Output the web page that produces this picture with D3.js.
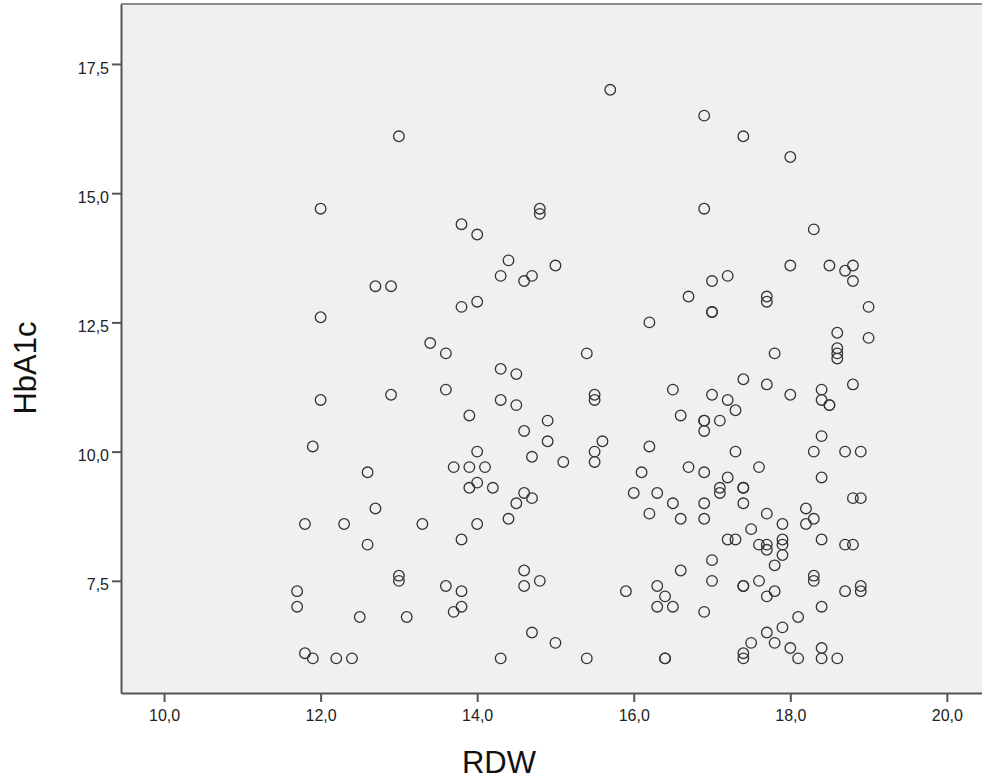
<!DOCTYPE html>
<html>
<head>
<meta charset="utf-8">
<script src="https://cdn.jsdelivr.net/npm/d3@7"></script>
<style>
  body { margin: 0; background: #fff; }
  svg { display: block; }
  text { font-family: "Liberation Sans", Arial, sans-serif; }
</style>
</head>
<body>
<script>
// RDW (x) and HbA1c (y), same order in both lists
var rdw = [
  13.0,12.0,14.8,14.8,13.8,14.0,14.4,14.3,14.7,14.6,
  15.0,12.7,12.9,13.8,14.0,12.0,13.4,13.6,14.3,14.5,
  12.0,12.9,13.6,14.3,14.5,13.9,14.9,14.6,14.9,11.9,
  14.0,14.7,15.1,12.6,13.7,13.9,14.1,14.0,13.9,14.2,
  14.6,14.7,14.5,12.7,11.8,12.3,13.3,14.0,14.4,13.8,
  12.6,13.0,13.0,14.6,14.8,14.6,13.6,13.8,11.7,11.7,
  13.8,13.7,12.5,13.1,14.7,15.0,11.8,11.9,12.2,12.4,
  14.3,
  15.7,16.9,17.4,18.0,16.9,18.0,17.0,17.2,16.7,17.7,
  17.7,17.0,17.0,16.2,15.4,17.8,17.4,17.7,16.5,15.5,
  15.5,17.0,17.2,18.0,17.3,16.6,16.9,16.9,17.1,16.9,
  15.6,15.5,15.5,16.2,17.3,17.6,16.7,16.9,16.1,17.2,
  17.1,17.1,17.4,17.4,16.0,16.3,16.5,16.9,17.4,16.2,
  16.6,16.9,17.7,17.9,17.5,17.2,17.3,17.6,17.7,17.7,
  17.9,17.9,17.9,17.8,17.0,16.6,17.0,17.4,17.4,17.6,
  17.8,17.7,15.9,16.3,16.4,16.3,16.5,16.9,18.1,17.9,
  17.7,17.8,17.5,18.0,18.1,17.4,17.4,16.4,16.4,15.4,
  18.3,18.5,18.8,18.7,18.8,19.0,18.6,18.6,18.6,18.6,
  19.0,18.8,18.4,18.4,18.5,18.5,18.4,18.3,18.7,18.9,
  18.4,18.8,18.9,18.2,18.3,18.2,18.4,18.7,18.8,18.3,
  18.3,18.7,18.9,18.9,18.4,18.4,18.4,18.6
];
var hba1c = [
  16.1,14.7,14.7,14.6,14.4,14.2,13.7,13.4,13.4,13.3,
  13.6,13.2,13.2,12.8,12.9,12.6,12.1,11.9,11.6,11.5,
  11.0,11.1,11.2,11.0,10.9,10.7,10.6,10.4,10.2,10.1,
  10.0,9.9,9.8,9.6,9.7,9.7,9.7,9.4,9.3,9.3,
  9.2,9.1,9.0,8.9,8.6,8.6,8.6,8.6,8.7,8.3,
  8.2,7.6,7.5,7.7,7.5,7.4,7.4,7.3,7.3,7.0,
  7.0,6.9,6.8,6.8,6.5,6.3,6.1,6.0,6.0,6.0,
  6.0,
  17.0,16.5,16.1,15.7,14.7,13.6,13.3,13.4,13.0,13.0,
  12.9,12.7,12.7,12.5,11.9,11.9,11.4,11.3,11.2,11.1,
  11.0,11.1,11.0,11.1,10.8,10.7,10.6,10.6,10.6,10.4,
  10.2,10.0,9.8,10.1,10.0,9.7,9.7,9.6,9.6,9.5,
  9.3,9.2,9.3,9.3,9.2,9.2,9.0,9.0,9.0,8.8,
  8.7,8.7,8.8,8.6,8.5,8.3,8.3,8.2,8.2,8.1,
  8.3,8.2,8.0,7.8,7.9,7.7,7.5,7.4,7.4,7.5,
  7.3,7.2,7.3,7.4,7.2,7.0,7.0,6.9,6.8,6.6,
  6.5,6.3,6.3,6.2,6.0,6.1,6.0,6.0,6.0,6.0,
  14.3,13.6,13.6,13.5,13.3,12.8,12.3,12.0,11.9,11.8,
  12.2,11.3,11.2,11.0,10.9,10.9,10.3,10.0,10.0,10.0,
  9.5,9.1,9.1,8.9,8.7,8.6,8.3,8.2,8.2,7.6,
  7.5,7.3,7.4,7.3,7.0,6.2,6.0,6.0
];
var xTicks = [10, 12, 14, 16, 18, 20];
var yTicks = [7.5, 10, 12.5, 15, 17.5];
var xTitle = "RDW";
var yTitle = "HbA1c";

var width = 982,
    height = 780,
    plotLeft = 121, plotTop = 4, plotBottom = 693, plotRight = 986;

var svg = d3.select("body")
   .append("svg")
   .attr("width", width)
   .attr("height", height);

var x = d3.scaleLinear().domain([9.45, 20.5]).range([plotLeft, plotRight]);
var y = d3.scaleLinear().domain([5.33, 18.66]).range([plotBottom, plotTop]);

// comma decimals like the SPSS output
var fmt = d3.formatLocale({ decimal: ",", thousands: ".", grouping: [3], currency: ["", ""] }).format(".1f");

svg.append("rect")
  .attr("x", plotLeft)
  .attr("y", plotTop)
  .attr("width", plotRight - plotLeft)
  .attr("height", plotBottom - plotTop)
  .attr("fill", "#f0f0f0");

svg.append("line")
  .attr("x1", plotLeft).attr("x2", plotRight)
  .attr("y1", plotTop).attr("y2", plotTop)
  .attr("stroke", "#8c8c8c")
  .attr("stroke-width", 2);

var xAxis = svg.append("g")
  .attr("transform", "translate(0," + plotBottom + ")")
  .call(d3.axisBottom(x).tickValues(xTicks).tickFormat(fmt)
    .tickSize(9).tickPadding(8).tickSizeOuter(0));

var yAxis = svg.append("g")
  .attr("transform", "translate(" + plotLeft + ",0)")
  .call(d3.axisLeft(y).tickValues(yTicks).tickFormat(fmt)
    .tickSize(9).tickPadding(3).tickSizeOuter(0));

[xAxis, yAxis].forEach(function(g) {
  g.select(".domain").attr("stroke", "#555").attr("stroke-width", 2);
  g.selectAll(".tick line").attr("stroke", "#555").attr("stroke-width", 2);
  g.selectAll(".tick text")
    .attr("fill", "#222")
    .style("font-size", "16px");
});
yAxis.selectAll(".tick text").attr("dy", "0.57em");

svg.append("g")
  .selectAll("circle")
  .data(rdw)
 .enter().append("circle")
  .attr("cx", function(d) { return x(d); })
  .attr("cy", function(d, i) { return y(hba1c[i]); })
  .attr("r", 5.3)
  .attr("fill", "none")
  .attr("stroke", "#333")
  .attr("stroke-width", 1.3);

svg.append("text")
  .attr("x", 499)
  .attr("y", 773)
  .attr("text-anchor", "middle")
  .attr("fill", "#111")
  .style("font-size", "31px")
  .text(xTitle);

svg.append("text")
  .attr("transform", "translate(36,368) rotate(-90)")
  .attr("text-anchor", "middle")
  .attr("fill", "#111")
  .style("font-size", "31px")
  .text(yTitle);
</script>
</body>
</html>
